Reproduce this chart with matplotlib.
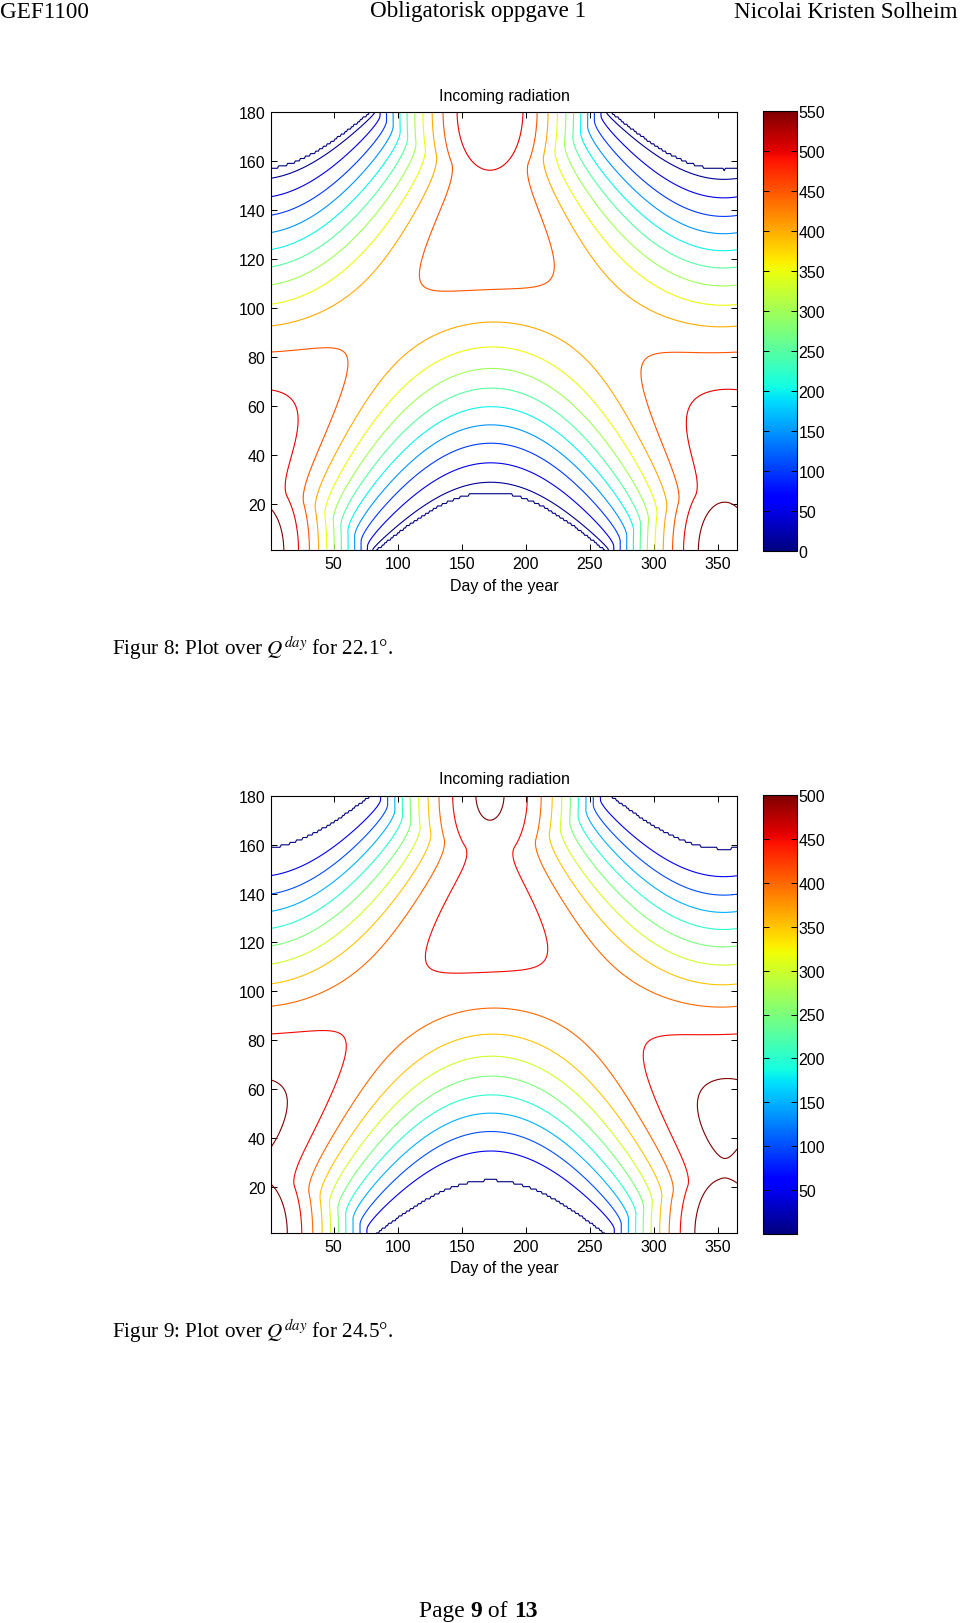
import numpy as np
import matplotlib
matplotlib.use("Agg")
import matplotlib.pyplot as plt
from matplotlib import colors

# ---- data ----
DAYS = np.arange(1, 366)            # day of the year (x)
LAT_ROWS = np.arange(1, 181)        # latitude row index (y), row 1 = south pole
# obliquity (degrees) behind the upper and the lower panel
OBLIQUITY = [24.5, 22.6]
SOLAR_CONSTANT = 1367.0
ECCENTRICITY = 0.0167

LEVELS_8 = [0, 10, 50, 100, 150, 200, 250, 300, 350, 400, 450, 500, 550]
LEVELS_9 = [0, 50, 100, 150, 200, 250, 300, 350, 400, 450, 500]
CBAR_MAX = [550, 500]
CBAR_TICKS_8 = [0, 50, 100, 150, 200, 250, 300, 350, 400, 450, 500, 550]
CBAR_TICKS_9 = [50, 100, 150, 200, 250, 300, 350, 400, 450, 500]
X_TICKS = [50, 100, 150, 200, 250, 300, 350]
Y_TICKS = [20, 40, 60, 80, 100, 120, 140, 160, 180]

HEADER = ["GEF1100", "Obligatorisk oppgave 1", "Nicolai Kristen Solheim"]
CAPTIONS = ["Figur 8: Plot over $Q^{day}$ for 22.1°.",
            "Figur 9: Plot over $Q^{day}$ for 24.5°."]

W, H = 960, 1624
SERIF = "Liberation Serif"
SANS = "Liberation Sans"
plt.rcParams["mathtext.fontset"] = "stix"


def daily_insolation(obliquity):
    # Q^day: latitude rows x days
    phi = np.deg2rad(LAT_ROWS - 90.5)[:, None]
    delta = -np.deg2rad(obliquity) * np.cos(2 * np.pi * (DAYS + 10) / 365)[None, :]
    dist = (1 + ECCENTRICITY * np.cos(2 * np.pi * (DAYS - 3) / 365)) ** 2
    h0 = np.arccos(np.clip(-np.tan(phi) * np.tan(delta), -1, 1))
    q = SOLAR_CONSTANT / np.pi * dist * (h0 * np.sin(phi) * np.sin(delta)
                                         + np.cos(phi) * np.cos(delta) * np.sin(h0))
    return q


def px(x0, y0, x1, y1):
    # pixel box (top-left origin) -> figure fraction rect
    return [x0 / W, 1 - y1 / H, (x1 - x0) / W, (y1 - y0) / H]


def contour_panel(fig, top, bottom, q, levels, vmax, cticks):
    ax = fig.add_axes(px(271, top, 737, bottom))
    norm = colors.Normalize(vmin=0, vmax=vmax)
    ax.contour(DAYS, LAT_ROWS, q, levels=levels, cmap="jet", norm=norm, linewidths=0.8)
    ax.set_xlim(1, 365)
    ax.set_ylim(1, 180)
    ax.set_xticks(X_TICKS)
    ax.set_yticks(Y_TICKS)
    ax.tick_params(direction="in", length=4, width=0.7, top=True, right=True,
                   labelsize=11.5, pad=4)
    for lab in ax.get_xticklabels() + ax.get_yticklabels():
        lab.set_family(SANS)
    for s in ax.spines.values():
        s.set_linewidth(0.8)
    ax.set_title("Incoming radiation", fontsize=11.5, family=SANS, pad=9)
    ax.set_xlabel("Day of the year", fontsize=11.5, family=SANS, labelpad=5)

    cax = fig.add_axes(px(763, top - 1, 797, bottom + 1))
    sm = plt.cm.ScalarMappable(norm=norm, cmap="jet")
    cb = fig.colorbar(sm, cax=cax)
    cb.set_ticks(cticks)
    cb.outline.set_linewidth(0.8)
    cax.tick_params(direction="in", length=4, width=0.7, left=True, right=True,
                    labelsize=11.5, pad=1)
    for lab in cax.get_yticklabels():
        lab.set_family(SANS)
    return ax


fig = plt.figure(figsize=(W / 100, H / 100), dpi=100)

# page header
fig.text(0.0, 1 - 12 / H, HEADER[0], ha="left", va="center", family=SERIF, fontsize=16.6)
fig.text(478 / W, 1 - 12 / H, HEADER[1], ha="center", va="center", family=SERIF, fontsize=16.6)
fig.text(957 / W, 1 - 12 / H, HEADER[2], ha="right", va="center", family=SERIF, fontsize=16.6)

contour_panel(fig, 113, 551, daily_insolation(OBLIQUITY[0]), LEVELS_8, CBAR_MAX[0], CBAR_TICKS_8)
contour_panel(fig, 797, 1234, daily_insolation(OBLIQUITY[1]), LEVELS_9, CBAR_MAX[1], CBAR_TICKS_9)

fig.text(112 / W, 1 - 648 / H, CAPTIONS[0], ha="left", va="center", family=SERIF, fontsize=15.2)
fig.text(112 / W, 1 - 1331 / H, CAPTIONS[1], ha="left", va="center", family=SERIF, fontsize=15.2)

# footer "Page 9 of 13" with bold numbers
renderer = fig.canvas.get_renderer()
x = 419
for part, weight in [("Page ", "normal"), ("9", "bold"), (" of ", "normal"), ("13", "bold")]:
    t = fig.text(x / W, 1 - 1612 / H, part, ha="left", va="center", family=SERIF,
                 fontsize=16.9, weight=weight)
    x += t.get_window_extent(renderer).width

fig.savefig("out.png", dpi=100)
